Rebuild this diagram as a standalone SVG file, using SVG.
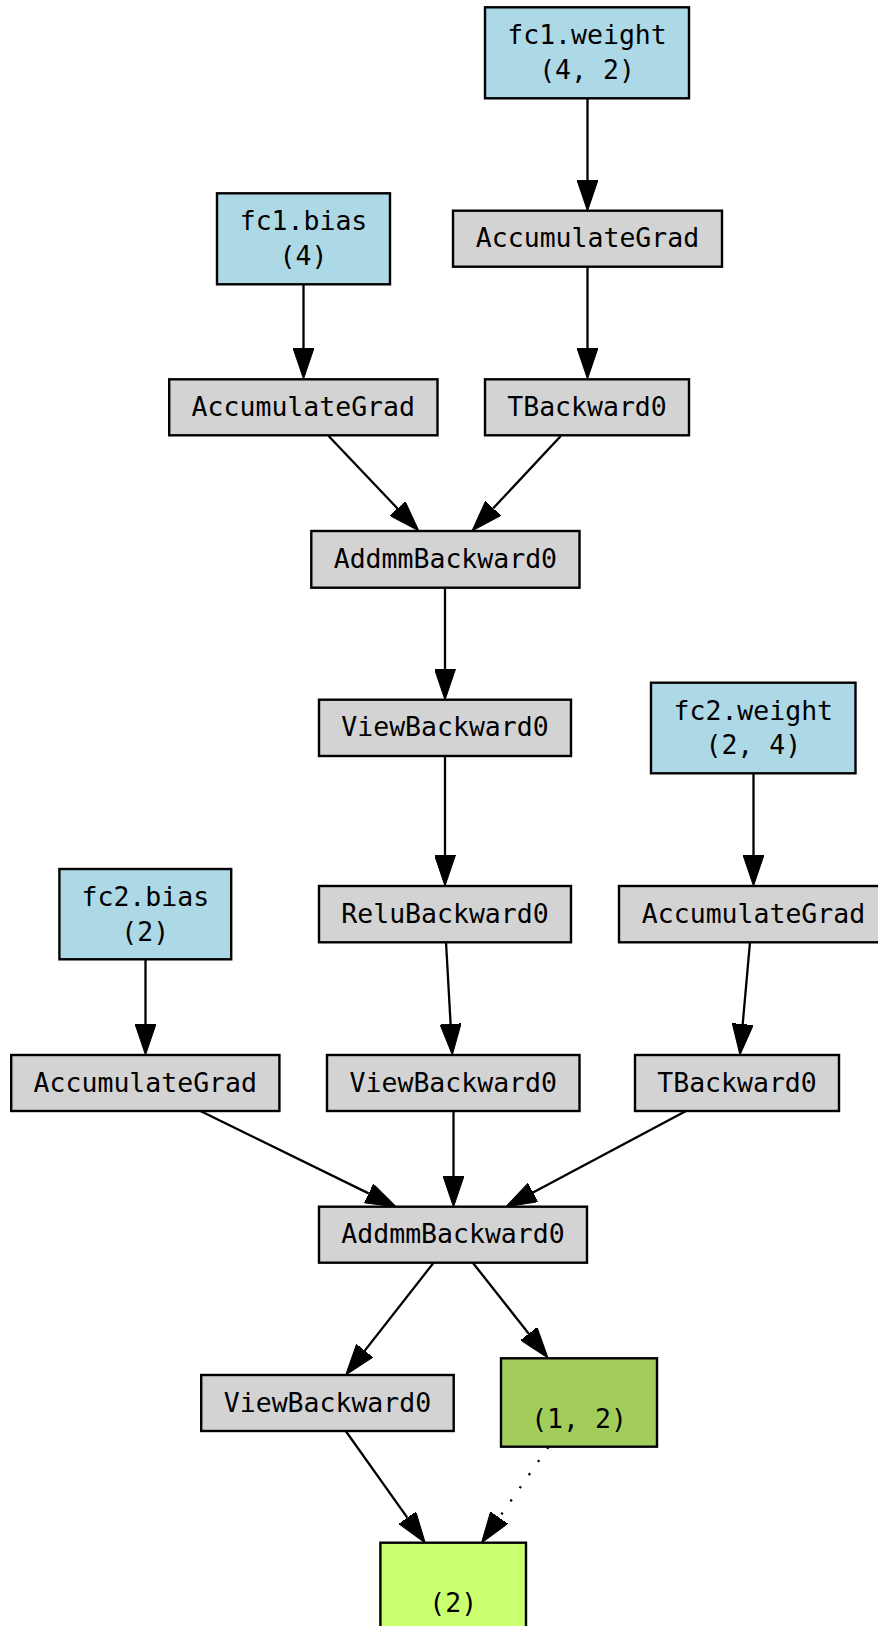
<svg xmlns="http://www.w3.org/2000/svg" width="878" height="1626" viewBox="0 0 878 1626">
<style>
rect{stroke:#000;stroke-width:2.4}
.p{fill:#add8e6}
.g{fill:#d3d3d3}
.o{fill:#a2cd5a}
.l{fill:#caff70}
text{font-family:"DejaVu Sans Mono","Liberation Mono",monospace;font-size:26.5px;text-anchor:middle;fill:#000}
.e line{stroke:#000;stroke-width:2.3;fill:none}
.d{stroke-dasharray:2.2 13.8}
</style>
<defs>
<marker id="a" viewBox="0 0 31 21" refX="0" refY="10.5" markerWidth="31" markerHeight="21" markerUnits="userSpaceOnUse" orient="auto">
<path d="M0,0 L31,10.5 L0,21 Z" fill="#000" stroke="#000" stroke-width="1"/>
</marker>
</defs>
<g class="e" id="edges">
<line x1="587.5" y1="98.3" x2="587.5" y2="180" marker-end="url(#a)"/>
<line x1="587.5" y1="267" x2="587.5" y2="348" marker-end="url(#a)"/>
<line x1="303.5" y1="284" x2="303.5" y2="348" marker-end="url(#a)"/>
<line x1="328.6" y1="436" x2="397.5" y2="508.5" marker-end="url(#a)"/>
<line x1="560.8" y1="436" x2="493.2" y2="508.3" marker-end="url(#a)"/>
<line x1="445" y1="588" x2="445" y2="669" marker-end="url(#a)"/>
<line x1="445" y1="756" x2="445" y2="855" marker-end="url(#a)"/>
<line x1="753.5" y1="773" x2="753.5" y2="855" marker-end="url(#a)"/>
<line x1="446" y1="942" x2="450.6" y2="1024" marker-end="url(#a)"/>
<line x1="750" y1="942" x2="742.7" y2="1024.1" marker-end="url(#a)"/>
<line x1="145.5" y1="959" x2="145.5" y2="1024" marker-end="url(#a)"/>
<line x1="200.4" y1="1111" x2="368.6" y2="1193.4" marker-end="url(#a)"/>
<line x1="453.5" y1="1111" x2="453.5" y2="1176" marker-end="url(#a)"/>
<line x1="686" y1="1111" x2="533" y2="1192.4" marker-end="url(#a)"/>
<line x1="433.4" y1="1263" x2="364.8" y2="1350.6" marker-end="url(#a)"/>
<line x1="473" y1="1263" x2="528.8" y2="1333.7" marker-end="url(#a)"/>
<line x1="345.7" y1="1431" x2="407.3" y2="1517.7" marker-end="url(#a)"/>
<line class="d" x1="548.4" y1="1447" x2="499.2" y2="1517.6" marker-end="url(#a)"/>
</g>
<g id="fc1_weight"><rect class="p" x="485" y="7.3" width="204" height="91"/><text x="587" y="44.3">fc1.weight</text><text x="587" y="78.8">(4, 2)</text></g>
<g id="acc_fc1_weight"><rect class="g" x="453" y="210.7" width="269" height="56"/><text x="587.5" y="247.3">AccumulateGrad</text></g>
<g id="fc1_bias"><rect class="p" x="217" y="193.3" width="173" height="91"/><text x="303.5" y="230.3">fc1.bias</text><text x="303.5" y="264.8">(4)</text></g>
<g id="acc_fc1_bias"><rect class="g" x="169.2" y="379.3" width="268.3" height="56"/><text x="303.3" y="416">AccumulateGrad</text></g>
<g id="tback1"><rect class="g" x="485" y="379.3" width="204" height="56"/><text x="587" y="416">TBackward0</text></g>
<g id="addmm1"><rect class="g" x="311.3" y="531" width="268.2" height="56.7"/><text x="445.4" y="567.7">AddmmBackward0</text></g>
<g id="view1"><rect class="g" x="319" y="699.7" width="252" height="56.3"/><text x="445" y="736.3">ViewBackward0</text></g>
<g id="fc2_weight"><rect class="p" x="651" y="682.7" width="204.5" height="90.6"/><text x="753.3" y="719.7">fc2.weight</text><text x="753.3" y="754.2">(2, 4)</text></g>
<g id="relu"><rect class="g" x="319" y="886" width="252" height="56.3"/><text x="445" y="922.6">ReluBackward0</text></g>
<g id="acc_fc2_weight"><rect class="g" x="619" y="886" width="269" height="56.3"/><text x="753.5" y="922.6">AccumulateGrad</text></g>
<g id="fc2_bias"><rect class="p" x="59.4" y="869" width="171.8" height="90.3"/><text x="145.3" y="906">fc2.bias</text><text x="145.3" y="940.5">(2)</text></g>
<g id="acc_fc2_bias"><rect class="g" x="11.2" y="1055" width="268.2" height="56"/><text x="145.3" y="1091.6">AccumulateGrad</text></g>
<g id="view2"><rect class="g" x="327" y="1055" width="252.5" height="56"/><text x="453.3" y="1091.6">ViewBackward0</text></g>
<g id="tback2"><rect class="g" x="635" y="1055" width="204" height="56"/><text x="737" y="1091.6">TBackward0</text></g>
<g id="addmm2"><rect class="g" x="319" y="1206.7" width="268" height="56"/><text x="453" y="1243.3">AddmmBackward0</text></g>
<g id="view3"><rect class="g" x="201.2" y="1375" width="252.5" height="56"/><text x="327.5" y="1411.6">ViewBackward0</text></g>
<g id="out12"><rect class="o" x="501" y="1358.3" width="156" height="88.4"/><text x="579" y="1427.5">(1, 2)</text></g>
<g id="out2"><rect class="l" x="380.4" y="1542.7" width="145.6" height="91"/><text x="453.2" y="1612">(2)</text></g>
</svg>
